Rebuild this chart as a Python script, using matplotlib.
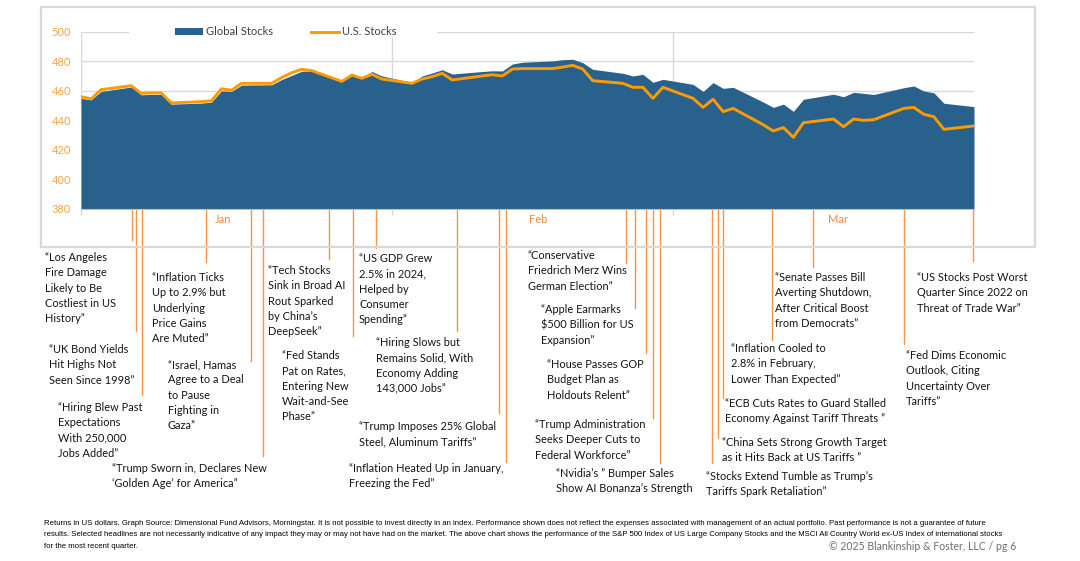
"""Q1 2025 global vs US stocks with headline call-outs."""
import matplotlib
matplotlib.use("Agg")
import matplotlib.pyplot as plt
import matplotlib.transforms as mtransforms
from matplotlib.lines import Line2D
from matplotlib.patches import Patch, Rectangle

W, H = 1080, 561

# day index: 0 = Jan 1 2025 (carries the Dec 31 close), 89 = Mar 31
days = [0, 1, 2, 5, 6, 7, 8, 9, 12, 13, 14, 15, 16, 19, 20, 21, 22, 23,
        26, 27, 28, 29, 30,
        33, 34, 35, 36, 37, 40, 41, 42, 43, 44, 47, 48, 49, 50, 51,
        54, 55, 56, 57, 58,
        61, 62, 63, 64, 65, 68, 69, 70, 71, 72, 75, 76, 77, 78, 79,
        82, 83, 84, 85, 86, 89]

us_stocks = [455.9, 454.5, 460.7, 463.4, 458.2, 458.5, 458.5, 451.7, 452.6, 453.1,
             461.3, 460.3, 465.0, 465.0, 468.9, 472.2, 474.5, 473.6, 466.3, 470.6,
             468.4, 471.1, 467.9,
             465.0, 467.9, 469.5, 471.8, 467.3, 470.0, 470.8, 470.0, 474.7, 475.0,
             475.0, 476.0, 477.2, 474.7, 466.8, 465.0, 462.3, 462.3, 454.8, 462.3,
             454.8, 448.7, 454.2, 445.8, 448.0, 436.9, 432.7, 435.0, 428.4, 438.3,
             440.8, 435.6, 440.8, 439.9, 440.3, 448.0, 448.7, 444.0, 442.4, 433.8,
             436.1]

global_stocks = [454.8, 453.8, 459.5, 462.5, 457.2, 457.5, 457.5, 450.9, 451.6, 452.2,
                 459.9, 459.5, 463.8, 464.0, 467.6, 470.4, 473.2, 473.4, 467.0, 471.0,
                 469.0, 473.0, 470.0,
                 465.5, 470.0, 472.0, 474.2, 471.3, 473.0, 473.5, 473.4, 478.1, 479.3,
                 480.2, 481.0, 481.3, 479.0, 474.5, 471.8, 470.0, 471.1, 465.7, 467.7,
                 464.3, 459.5, 465.5, 461.6, 462.3, 452.3, 448.7, 450.9, 446.0, 454.2,
                 457.6, 455.9, 458.9, 458.2, 457.4, 462.0, 463.2, 459.8, 458.6, 451.5,
                 449.2]

y_ticks = [380, 400, 420, 440, 460, 480, 500]
month_names = ["Jan", "Feb", "Mar"]
month_label_days = [14.2, 45.6, 75.4]
month_start_days = [0, 31, 59]

# headline: (day on axis, text, lower end of leader line px, text x px, first-line y px)
headlines = [
    (5.05, "“Los Angeles\nFire Damage\nLikely to Be\nCostliest in US\nHistory”", 240, 45, 258),
    (5.5, "“UK Bond Yields\nHit Highs Not\nSeen Since 1998”", 331, 49, 350),
    (6.05, "“Hiring Blew Past\nExpectations\nWith 250,000\nJobs Added”", 395, 57.7, 408),
    (12.5, "“Inflation Ticks\nUp to 2.9% but\nUnderlying\nPrice Gains\nAre Muted”", 262, 152, 278),
    (16.95, "“Israel, Hamas\nAgree to a Deal\nto Pause\nFighting in\nGaza”", 361, 167.7, 365),
    (18.1, "“Trump Sworn in, Declares New\n‘Golden Age’ for America”", 456, 112, 469),
    (24.75, "“Tech Stocks\nSink in Broad AI\nRout Sparked\nby China’s\nDeepSeek”", 259, 267.7, 271),
    (27.1, "“Fed Stands\nPat on Rates,\nEntering New\nWait-and-See\nPhase”", 336, 281.7, 356),
    (29.4, "“US GDP Grew\n2.5% in 2024,\nHelped by\nConsumer\nSpending”", 248, 359, 259),
    (37.45, "“Hiring Slows but\nRemains Solid, With\nEconomy Adding\n143,000 Jobs”", 331, 376, 343),
    (41.7, "“Trump Imposes 25% Global\nSteel, Aluminum Tariffs”", 413, 359, 427),
    (42.35, "“Inflation Heated Up in January,\nFreezing the Fed”", 462, 349, 469),
    (54.35, "“Conservative\nFriedrich Merz Wins\nGerman Election”", 263, 527.7, 256),
    (55.25, "“Apple Earmarks\n$500 Billion for US\nExpansion”", 308, 541, 310),
    (56.3, "“House Passes GOP\nBudget Plan as\nHoldouts Relent”", 353, 547, 365),
    (57.05, "“Trump Administration\nSeeks Deeper Cuts to\nFederal Workforce”", 418, 534.7, 425),
    (57.75, "“Nvidia’s ” Bumper Sales\nShow AI Bonanza’s Strength", 463, 555.7, 474),
    (62.9, "“Stocks Extend Tumble as Trump’s\nTariffs Spark Retaliation”", 463, 705.7, 477),
    (63.45, "“China Sets Strong Growth Target\nas it Hits Back at US Tariffs ”", 438, 721.7, 443),
    (64.0, "“ECB Cuts Rates to Guard Stalled\nEconomy Against Tariff Threats ”", 398, 725, 404),
    (68.85, "“Inflation Cooled to\n2.8% in February,\nLower Than Expected”", 340, 730.7, 349),
    (73.0, "“Senate Passes Bill\nAverting Shutdown,\nAfter Critical Boost\nfrom Democrats”", 267, 775, 278),
    (82.0, "“Fed Dims Economic\nOutlook, Citing\nUncertainty Over\nTariffs”", 344, 905.7, 356),
    (88.95, "“US Stocks Post Worst\nQuarter Since 2022 on\nThreat of Trade War”", 261, 916.7, 278),
]

footer_lines = [
    "Returns in US dollars. Graph Source: Dimensional Fund Advisors, Morningstar. It is not possible to "
    "invest directly in an index. Performance shown does not reflect the expenses associated with management "
    "of an actual portfolio. Past performance is not a guarantee of future",
    "results. Selected headlines are not necessarily indicative of any impact they may or may not have had on "
    "the market. The above chart shows the performance of the S&P 500 Index of US Large Company Stocks and the "
    "MSCI All Country World ex-US Index of international stocks",
    "for the most recent quarter.",
]
copyright_text = "© 2025 Blankinship & Foster, LLC / pg 6"

BLUE = "#29618D"
ORANGE = "#FF9A00"
LEADER = "#F7944A"
GRID = "#D9D9D9"
TEXT_FONT = ["Lato", "DejaVu Sans"]


def fx(x):
    return x / W


def fy(y):
    return 1 - y / H


fig = plt.figure(figsize=(W / 100, H / 100), dpi=100)

# chart frame
fig.patches.append(Rectangle((fx(41), fy(247)), fx(1035) - fx(41), fy(7) - fy(247),
                             transform=fig.transFigure, fill=False,
                             edgecolor=GRID, linewidth=1.6, zorder=0))

ax = fig.add_axes([fx(81), fy(208.7), fx(974) - fx(81), fy(31.7) - fy(208.7)])
ax.set_xlim(0, 89)
ax.set_ylim(380, 500)
ax.set_axisbelow(True)

ax.fill_between(days, 380, global_stocks, color=BLUE, linewidth=0, zorder=2)
ax.plot(days, us_stocks, color=ORANGE, linewidth=2.1, solid_joinstyle="round", zorder=3)

ax.set_yticks(y_ticks)
ax.set_yticklabels([str(v) for v in y_ticks])
ax.set_xticks(month_start_days)
ax.set_xticklabels([])
ax.grid(True, color=GRID, linewidth=1.0)
ax.tick_params(axis="y", length=0, pad=7, labelsize=8, labelcolor="#F7A64B")
ax.tick_params(axis="x", length=4, color=GRID, width=1.0)
for side in ("top", "right", "left"):
    ax.spines[side].set_visible(False)
ax.spines["bottom"].set_color("#BFBFBF")
for lab in ax.get_yticklabels():
    lab.set_family(TEXT_FONT)

trans_xdata = mtransforms.blended_transform_factory(ax.transData, ax.transAxes)
for name, d in zip(month_names, month_label_days):
    ax.text(d, -0.06, name, transform=trans_xdata, ha="center", va="center",
            fontsize=8, color="#F0883E", family=TEXT_FONT)

# legend, with a white strip breaking the top gridline
ax.add_patch(Rectangle(((129 - 81) / 893, 0.97), (437 - 129) / 893, 0.06,
                       transform=ax.transAxes, facecolor="white", edgecolor="none",
                       clip_on=False, zorder=4))
handles = [Patch(facecolor=BLUE, edgecolor="none"),
           Line2D([], [], color=ORANGE, linewidth=2.1)]
leg = ax.legend(handles, ["Global Stocks", "U.S. Stocks"], ncol=2, loc="center",
                bbox_to_anchor=(0.2296, 1.0), frameon=False, fontsize=8,
                handlelength=2.5, handleheight=0.55, handletextpad=0.3,
                columnspacing=3.4, prop={"family": TEXT_FONT, "size": 8})
for t in leg.get_texts():
    t.set_color("#404040")
leg.set_zorder(5)

# leader lines and headlines
trans_lead = mtransforms.blended_transform_factory(ax.transData, fig.transFigure)
for d, text, y_end, tx, ty in headlines:
    ax.plot([d, d], [fy(209), fy(y_end)], transform=trans_lead, color=LEADER,
            linewidth=1.0, clip_on=False, zorder=1)
    fig.text(fx(tx), fy(ty - 5.8), text, ha="left", va="top", fontsize=7.9,
             linespacing=1.47, color="#141414", family=TEXT_FONT)

# footer, scaled so the second line spans its width in the original
foot = []
for i, line in enumerate(footer_lines):
    foot.append(fig.text(fx(44), fy(523.3 + 11.4 * i), line, ha="left", va="center",
                         fontsize=6, color="#000000",
                         family=["Liberation Sans Narrow", "Liberation Sans"]))
fig.canvas.draw()
renderer = fig.canvas.get_renderer()
width2 = foot[1].get_window_extent(renderer).width
size = 6 * (1006.7 - 44) / width2
for t in foot:
    t.set_fontsize(size)

fig.text(fx(1016), fy(547), copyright_text, ha="right", va="center", fontsize=7.6,
         color="#6E6E6E", family=TEXT_FONT)

fig.savefig("out.png", dpi=100)
